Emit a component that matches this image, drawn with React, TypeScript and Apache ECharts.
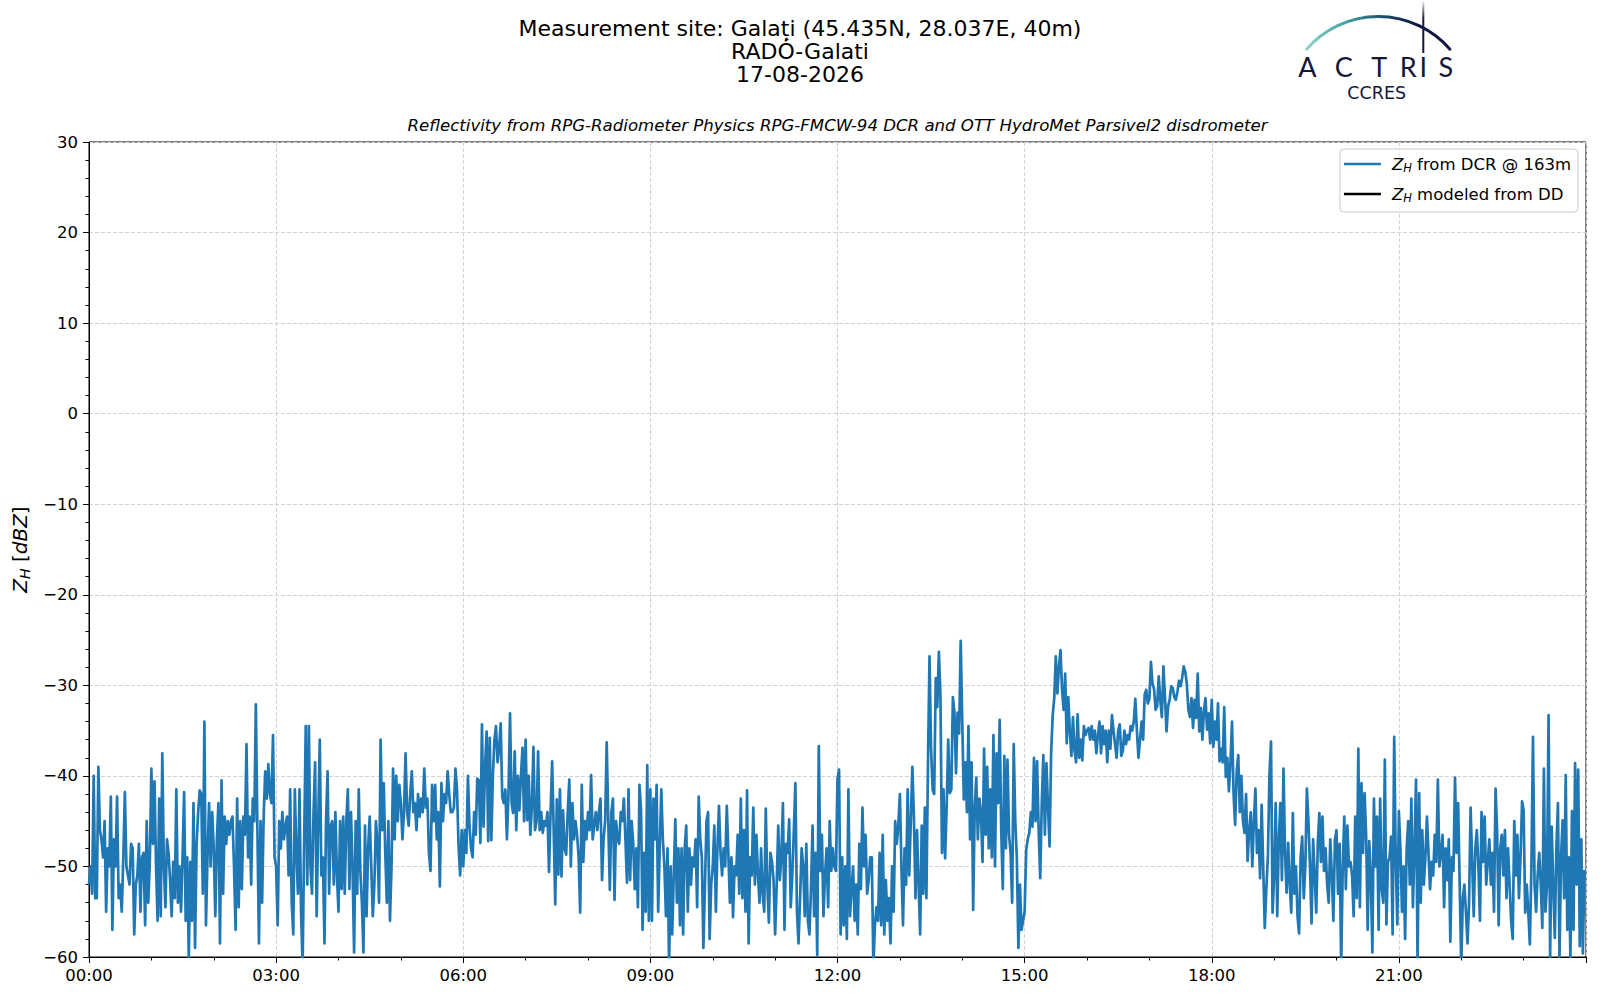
import React, { useEffect, useRef } from "react";
import * as echarts from "echarts";

// Reflectivity Z_H from DCR @ 163m, dBZ, 40 samples per hour (1.5-minute spacing), one array per hour
const h00 = [-52,-50,-53,-40,-53.5,-53.5,-39,-46,-47,-49,-45,-55,-48,-50,-42.3,-57,-47,-50,-42.3,-53.5,-52,-55,-49,-41.8,-50,-51,-52,-47.5,-48,-57.5,-52,-51,-47.5,-55,-49,-48.5,-56.5,-45,-54,-49.5];
const h01 = [-39.2,-47.5,-40.6,-50,-56,-42.5,-55.5,-37.5,-50,-54.5,-47,-48.5,-51.5,-55.5,-49.5,-53.5,-41.5,-54,-50,-55,-49,-41.8,-56,-49,-60,-49.5,-56,-43,-59,-47.5,-44,-41.6,-42,-53,-34,-56.5,-49,-43,-50,-44];
const h02 = [-48,-55.5,-47,-43,-58.5,-40.5,-53,-44.5,-47.5,-45,-46.5,-45,-44.5,-50,-57,-42.5,-54.5,-45,-52.5,-44.5,-46.5,-36.5,-49,-44.5,-52,-42.5,-45,-32.1,-46,-58.5,-45,-54,-44.5,-39.5,-42.5,-38.7,-42,-43,-35.5,-49];
const h03 = [-50,-56.5,-45,-48,-44,-47,-45.5,-44.5,-51,-41.5,-54,-57.5,-41.5,-48.5,-53,-41.5,-55,-61,-47,-34.5,-52,-34.5,-50,-53,-44,-38.5,-55.5,-45,-36,-51,-49,-58.5,-45,-39.5,-53,-45.5,-45,-52,-44,-51];
const h04 = [-55,-45,-52.5,-44.5,-53,-45,-41.5,-52.5,-44,-50,-59.5,-45,-53,-41.5,-50.5,-54,-59.5,-45.5,-55.5,-48,-44.5,-50,-55.5,-52,-45,-47.5,-54,-36,-46,-40.8,-48.5,-54,-45,-56,-50,-39.2,-47,-40,-45,-41];
const h05 = [-43,-47,-44,-37.5,-44,-45.5,-42,-39.5,-44,-43,-46,-42,-44.5,-42.5,-44,-39.2,-43.5,-42.5,-48.5,-50.5,-41,-45,-41,-47,-44,-52.2,-40.8,-45,-42,-43,-39.5,-42,-44,-44,-43.5,-39.2,-41.5,-47.8,-51,-46];
const h06 = [-50,-46,-48.5,-40,-45.5,-48,-49,-44,-46.5,-40.3,-40.5,-47.4,-34.3,-45.6,-39,-35.1,-47.2,-35.8,-47.1,-40,-36,-34.5,-38.5,-37,-34.2,-42.3,-43,-41.5,-47,-42,-33.1,-43,-44.1,-37.3,-46,-40,-43.8,-40,-36.9,-45];
const h07 = [-36,-44.9,-40,-46.5,-43.5,-36.8,-46,-45,-37.3,-46,-44,-46.3,-45,-45.5,-44,-50.6,-44,-38.4,-46,-54.2,-42.6,-50.9,-41.5,-51.1,-43.8,-48,-48.7,-44,-40.4,-50,-43,-47,-45,-46.5,-49,-55.1,-41,-49.5,-45,-47];
const h08 = [-44,-46,-39.9,-47,-45.5,-44,-46,-44,-42.5,-51.5,-47,-45,-36.3,-45,-52.6,-44,-42.5,-53.7,-45,-47,-47.5,-44,-45,-42.5,-47,-51.8,-41.5,-51.5,-45,-47.5,-52.5,-48,-54.5,-41,-43.7,-57,-48.5,-55,-38.8,-56];
const h09 = [-41.5,-56,-42.5,-47,-41,-55,-48,-41.5,-47,-50,-55.5,-48,-61,-50,-57.5,-51,-44.8,-54,-48,-56.5,-48,-57.5,-48,-45.5,-55,-48,-52,-49,-50,-47,-54.5,-42.3,-47,-49,-59,-52,-45,-44,-58,-52];
const h10 = [-50,-45.5,-55,-48,-43.3,-48.5,-51,-48,-50,-43.3,-48.5,-54,-49,-55.6,-50,-51,-46.5,-53,-42.5,-53.5,-46,-55,-41.6,-58.5,-49,-51,-43.5,-52,-46.5,-51,-54,-48,-53,-55,-43.6,-52,-56.2,-48.5,-49.5,-51.5];
const h11 = [-57.5,-52,-45.5,-51.5,-49,-43,-57,-47.5,-48.5,-44.8,-54.5,-51,-46,-40.8,-55,-58.5,-53.5,-48,-50,-55.5,-47.5,-56,-57.5,-52.5,-45.5,-55.5,-48.5,-59.8,-36.7,-50.5,-46.5,-55.5,-51,-48,-54.5,-45,-50.5,-48,-50,-50.5];
const h12 = [-40.3,-39.3,-57.5,-49,-56.5,-50,-58,-41.5,-55.5,-52.5,-50,-56,-52,-57.5,-47.5,-52.5,-43.5,-50,-46.5,-53,-51.5,-49,-49,-61,-56.5,-54.5,-56,-48.5,-56.5,-46.5,-57.5,-51.5,-56,-53.5,-58.5,-50,-55,-45,-47.5,-45.5];
const h13 = [-42,-50,-56.5,-48,-52,-41.5,-51,-45,-39,-44.5,-53.5,-46,-52,-57.5,-45.5,-53,-43.5,-53.5,-39,-26.8,-37,-41.5,-42,-29.2,-32.4,-26.3,-31,-48.5,-41.5,-49.1,-43.5,-36,-41.9,-41.5,-31.3,-33,-39.7,-33,-35.3,-25.1];
const h14 = [-34,-42.6,-38.5,-44,-34.5,-47,-38.5,-54.8,-43.5,-40.2,-47,-42.5,-44,-49.5,-37,-46.5,-39,-48,-41.5,-49,-35.5,-50,-37.5,-43,-33.8,-46,-52.5,-37.8,-48,-38.2,-46.5,-48.5,-54,-36.5,-45,-49,-59,-52,-57,-56];
const h15 = [-55,-48.2,-47,-46.3,-44,-45.6,-38,-45,-38.4,-46,-51.3,-43,-37.7,-46.5,-38.6,-43.4,-47.8,-37.5,-33.3,-31.4,-26.8,-30.9,-27.9,-26.1,-30.5,-32.7,-28.7,-36.4,-31.3,-35.1,-37.8,-33.5,-37.2,-38.5,-33.2,-38,-36,-38.3,-34.5,-35.5];
const h16 = [-35,-34.7,-36,-34.5,-36,-35,-37.5,-35.5,-34,-37.5,-34.5,-36.5,-35,-38.5,-35,-37,-33.3,-35,-36.5,-38,-35,-34.3,-37.8,-37.2,-35,-36.5,-35.5,-36,-34.5,-35,-34,-31.5,-35,-38,-36,-34,-36,-31,-30.5,-32];
const h17 = [-31.5,-27.4,-29.8,-30.4,-32.7,-32.3,-29,-31.6,-33.5,-27.9,-31.3,-35.1,-32.3,-31.6,-30.1,-30.3,-31.3,-31.6,-30.7,-29.5,-30.1,-29.2,-27.9,-28.5,-29.8,-32.7,-33.5,-31.4,-34.7,-31.6,-33.6,-28.7,-35.1,-32.5,-36,-32.8,-31.4,-34.9,-33.1,-36.4];
const h18 = [-31.6,-36.8,-34,-36,-32,-38.4,-37,-38.5,-32.4,-40.1,-38,-41.7,-38.5,-34,-42,-45.4,-39.5,-37.7,-44,-40,-45,-46.3,-42,-49.4,-46,-44,-50,-45,-41.4,-48.5,-46,-51.3,-43.2,-50,-56.8,-52.5,-48.9,-39.9,-36.2,-55.1];
const h19 = [-51,-43,-55.5,-47,-43,-51.5,-39.2,-48.5,-52.9,-47.4,-52,-55.1,-44.1,-53,-50,-55.5,-57.4,-49,-46.7,-53.5,-50,-41.4,-45,-50,-56.3,-47,-51,-55.1,-47.5,-44.1,-49.5,-44.5,-50.5,-48,-52,-54,-47,-51,-56,-47];
const h20 = [-46,-53,-47.5,-61,-50,-44.5,-52.5,-45.5,-50,-49.5,-51,-55.5,-44.5,-53.5,-37,-54.5,-40.8,-48.5,-41.9,-46.5,-57,-47.2,-51,-59.5,-42.5,-50,-44.5,-57,-42.5,-52.5,-54,-38.2,-56.4,-49.5,-49,-46.7,-57.5,-35.7,-49.5,-56.4];
const h21 = [-43.9,-48,-55,-50,-58,-48,-45,-52,-42.5,-54.5,-48,-40.4,-61,-41.9,-54,-46,-52,-49,-44.5,-48.5,-52.5,-49.5,-51,-46.5,-49.5,-40.4,-50,-48.5,-46.5,-54.5,-48,-51.5,-47,-58.3,-49,-50.5,-40.2,-48.5,-43,-52];
const h22 = [-61,-53.5,-52,-55,-58.5,-54,-43.5,-49.5,-55.5,-48,-46,-50,-56,-44,-49.5,-44.5,-52,-49.5,-47,-52,-48.5,-55,-41.4,-46,-56.5,-48,-46.5,-51,-46,-53.5,-48,-52,-56,-58,-45,-51,-46.5,-53.5,-49,-42.8];
const h23 = [-43.8,-55.1,-52,-55,-58.6,-50,-35.7,-52,-55,-51,-48.5,-52,-56.8,-39.2,-55,-52,-33.3,-60,-45.6,-52,-57.9,-48,-43,-60,-49,-44.9,-53.5,-39.9,-57,-49,-60,-43.9,-57,-38.6,-52,-39.3,-58.8,-47,-59.6,-50.4];

const HOURLY = [h00,h01,h02,h03,h04,h05,h06,h07,h08,h09,h10,h11,h12,h13,h14,h15,h16,h17,h18,h19,h20,h21,h22,h23];
const modeledDD: number[][] = []; // Z_H modeled from DD: no data on this day

const TITLE_LINES = ["Measurement site: Galați (45.435N, 28.037E, 40m)", "RADÓ-Galati", "17-08-2026"];
const SUBTITLE = "Reflectivity from RPG-Radiometer Physics RPG-FMCW-94 DCR and OTT HydroMet Parsivel2 disdrometer";
const LEGEND_DCR = " from DCR @ 163m";
const LEGEND_DD = " modeled from DD";
const LOGO_LETTERS = ["A", "C", "T", "R", "I", "S"];
const LOGO_SUB = "CCRES";

const FONT = "'DejaVu Sans', sans-serif";
const NAVY = "#14163a";

export default function App() {
  const ref = useRef<HTMLDivElement>(null);
  useEffect(() => {
    if (!ref.current) return;
    const chart = echarts.init(ref.current, null, { renderer: "svg" });
    const dcr = HOURLY.flatMap((arr, h) => arr.map((v, i) => [h + i / arr.length, v]));

    const letterX = [1307.3, 1343.8, 1379.2, 1408.3, 1423.3, 1445.8];
    const arcGrad = new echarts.graphic.LinearGradient(1306, 0, 1450, 0, [
      { offset: 0, color: "#8fd3cb" },
      { offset: 0.28, color: "#3ea2a5" },
      { offset: 0.55, color: "#1c4a68" },
      { offset: 0.78, color: "#111740" },
      { offset: 1, color: "#111740" },
    ], true);
    const vGrad = new echarts.graphic.LinearGradient(0, 0, 0, 53, [
      { offset: 0, color: "rgba(20,22,58,0)" },
      { offset: 0.35, color: NAVY },
      { offset: 1, color: NAVY },
    ], true);

    const graphic: any[] = [
      ...TITLE_LINES.map((t, i) => ({
        type: "text", x: 800, y: [28.5, 51.8, 74.7][i],
        style: { text: t, fontSize: 22, lineHeight: 22, fontFamily: FONT, fill: "#000", align: "center", verticalAlign: "middle" },
      })),
      {
        type: "text", x: 837.5, y: 125.5,
        style: { text: SUBTITLE, fontSize: 16.6, fontStyle: "italic", fontFamily: FONT, fill: "#000", align: "center", verticalAlign: "middle" },
      },
      {
        type: "arc",
        shape: { cx: 1378.3, cy: 111.3, r: 94.8, startAngle: -Math.PI / 2 - 0.857, endAngle: -Math.PI / 2 + 0.857, clockwise: true },
        style: { stroke: arcGrad, lineWidth: 3, fill: null, lineCap: "round" },
      },
      {
        type: "line",
        shape: { x1: 1423.3, y1: 1, x2: 1423.3, y2: 53 },
        style: { stroke: vGrad, lineWidth: 2 },
      },
      ...LOGO_LETTERS.map((l, i) => ({
        type: "text", x: letterX[i], y: 66.3,
        style: { text: l, fontSize: 27, lineHeight: 22, fontFamily: "Lato, 'DejaVu Sans', sans-serif", fill: NAVY, align: "center", verticalAlign: "middle" },
      })),
      {
        type: "text", x: 1376.7, y: 93.4,
        style: { text: LOGO_SUB, fontSize: 17.5, lineHeight: 15, fontFamily: FONT, fill: NAVY, align: "center", verticalAlign: "middle" },
      },
    ];

    const legendRich = {
      g: { width: 6, fontSize: 16.5, lineHeight: 20 },
      i: { fontStyle: "italic", fontSize: 16.5, lineHeight: 20, fontFamily: FONT, color: "#000" },
      s: { fontStyle: "italic", fontSize: 11.5, lineHeight: 14, verticalAlign: "bottom", fontFamily: FONT, color: "#000" },
      t: { fontSize: 16.5, lineHeight: 20, fontFamily: FONT, color: "#000" },
    };

    chart.setOption({
      animation: false,
      backgroundColor: "#fff",
      textStyle: { fontFamily: FONT },
      grid: { left: 89, top: 142, width: 1497, height: 815, show: true, borderColor: "#000", borderWidth: 1, backgroundColor: "transparent" },
      graphic,
      legend: {
        orient: "vertical",
        right: 22,
        top: 149,
        padding: [5, 7, 8, 4],
        itemGap: 10,
        itemWidth: 37,
        itemHeight: 2.5,
        icon: "rect",
        selectedMode: false,
        backgroundColor: "rgba(255,255,255,0.8)",
        borderColor: "#cccccc",
        borderWidth: 1,
        borderRadius: 4,
        data: [{ name: "dcr" }, { name: "dd" }],
        formatter: (name: string) => (name === "dcr" ? "{g| }{i|Z}{s|H}{t|" + LEGEND_DCR + "}" : "{g| }{i|Z}{s|H}{t|" + LEGEND_DD + "}"),
        textStyle: { fontFamily: FONT, fontSize: 16.5, color: "#000", lineHeight: 20, rich: legendRich },
      },
      xAxis: {
        type: "value",
        min: 0,
        max: 24,
        interval: 3,
        axisLine: { show: true, onZero: false, lineStyle: { color: "#000", width: 1 } },
        axisTick: { show: true, length: 6, lineStyle: { color: "#000", width: 1 } },
        minorTick: { show: true, splitNumber: 3, length: 3.5, lineStyle: { color: "#000", width: 1 } },
        axisLabel: {
          formatter: (v: number) => (v >= 24 ? "" : String(v).padStart(2, "0") + ":00"),
          fontSize: 16.5,
          color: "#000",
          margin: 10,
          fontFamily: FONT,
        },
        splitLine: { show: true, lineStyle: { color: "#d3d3d3", type: [4, 2], width: 1 } },
      },
      yAxis: {
        type: "value",
        min: -60,
        max: 30,
        interval: 10,
        axisLine: { show: true, onZero: false, lineStyle: { color: "#000", width: 1 } },
        axisTick: { show: true, length: 6, lineStyle: { color: "#000", width: 1 } },
        minorTick: { show: true, splitNumber: 5, length: 3.5, lineStyle: { color: "#000", width: 1 } },
        axisLabel: {
          formatter: (v: number) => (v < 0 ? "\u2212" + Math.abs(v) : String(v)),
          fontSize: 16.5,
          color: "#000",
          margin: 11,
          fontFamily: FONT,
          showMinLabel: true,
          showMaxLabel: true,
        },
        splitLine: { show: true, lineStyle: { color: "#d3d3d3", type: [4, 2], width: 1 } },
        name: "{i|Z}{s|H}{n| [}{i|dBZ}{n|]}",
        nameLocation: "middle",
        nameRotate: 90,
        nameGap: 52,
        nameTextStyle: {
          fontSize: 20,
          color: "#000",
          fontFamily: FONT,
          lineHeight: 24,
          rich: {
            i: { fontStyle: "italic", fontSize: 20, lineHeight: 24, fontFamily: FONT, color: "#000" },
            s: { fontStyle: "italic", fontSize: 14, lineHeight: 16, verticalAlign: "bottom", fontFamily: FONT, color: "#000" },
            n: { fontSize: 20, lineHeight: 24, fontFamily: FONT, color: "#000" },
          },
        },
      },
      series: [
        {
          name: "dcr",
          type: "line",
          data: dcr,
          showSymbol: false,
          symbol: "none",
          clip: true,
          z: 3,
          lineStyle: { color: "#1f77b4", width: 2.7, join: "round" },
          itemStyle: { color: "#1f77b4" },
        },
        {
          name: "dd",
          type: "line",
          data: modeledDD,
          showSymbol: false,
          symbol: "none",
          lineStyle: { color: "#000", width: 2 },
          itemStyle: { color: "#000" },
        },
      ],
    });
    return () => chart.dispose();
  }, []);
  return <div ref={ref} style={{ position: "absolute", left: 0, top: 0, width: 1600, height: 1000, background: "#fff" }} />;
}
